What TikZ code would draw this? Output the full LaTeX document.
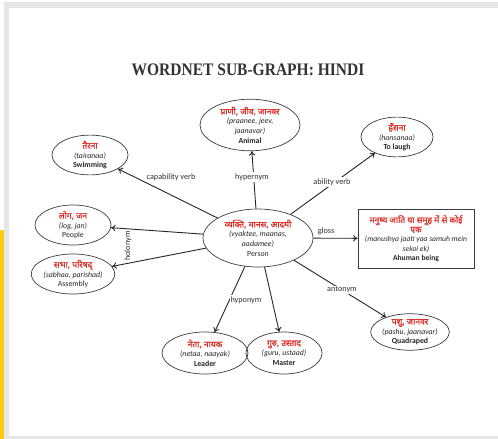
\documentclass[tikz,border=0pt]{standalone}
\usepackage{fontspec}
\setmainfont{Carlito}
\newfontfamily\devfont[Script=Devanagari,FakeBold=1.2]{Noto Sans}
\newfontfamily\ttlfont{Liberation Serif}
\usetikzlibrary{shapes.geometric,arrows.meta}
\definecolor{wred}{RGB}{222,45,38}
\definecolor{framegray}{RGB}{230,230,232}
\definecolor{baryellow}{RGB}{255,204,17}
\definecolor{edgegray}{RGB}{60,60,60}
\newcommand\dv[1]{{\devfont\fontsize{8.5}{10}\selectfont\color{wred}#1}}
\newcommand\wnlines[3]{\dv{#1}\\{\itshape #2}\\{\bfseries #3}}
\begin{document}
\begin{tikzpicture}[x=1pt,y=-1pt,
  concept/.style={ellipse,draw=edgegray,line width=0.7pt,inner sep=0pt,align=center,
    font=\fontsize{7.8}{9.6}\selectfont,text=black!85},
  glossbox/.style={rectangle,draw=edgegray,line width=0.7pt,inner sep=0pt,align=center,
    font=\fontsize{7.6}{9.4}\selectfont,text=black!85,minimum width=116pt,minimum height=59pt},
  rel/.style={draw=black!85,line width=0.9pt,-{To[length=4.5pt,width=6.5pt]}},
  rlabel/.style={font=\fontsize{8.2}{9}\selectfont,text=black!80,inner sep=1pt}]
\useasboundingbox (0,0) rectangle (498,439);
\fill[framegray] (4,2) rectangle (498,439);
\fill[white] (9,8) rectangle (498,436);
\fill[baryellow] (0,230) rectangle (4,439);

\node[font=\ttlfont\bfseries\fontsize{16}{16}\selectfont,text=black!80,xscale=0.97,yscale=1.1] (title) at (248,70) {WORDNET SUB-GRAPH: HINDI};

\node[concept,minimum width=110pt,minimum height=58pt] (person) at (258,238)
  {\dv{व्यक्ति, मानस, आदमी}\\{\itshape (vyaktee, maanas,}\\{\itshape aadamee)}\\Person};
\node[concept,minimum width=100pt,minimum height=50pt] (animal) at (250,125)
  {\dv{प्राणी, जीव, जानवर}\\{\itshape (praanee, jeev,}\\{\itshape jaanavar)}\\{\bfseries Animal}};
\node[concept,minimum width=76pt,minimum height=38pt] (swim) at (90,155)
  {\wnlines{तैरना}{(tairanaa)}{Swimming}};
\node[concept,minimum width=72pt,minimum height=38pt] (laugh) at (397,137)
  {\wnlines{हँसना}{(hansanaa)}{To laugh}};
\node[concept,minimum width=76pt,minimum height=40pt] (people) at (73,225)
  {\dv{लोग, जन}\\{\itshape (log, jan)}\\People};
\node[concept,minimum width=82pt,minimum height=40pt] (assembly) at (73,274)
  {\dv{सभा, परिषद्}\\{\itshape (sabhaa, parishad)}\\Assembly};
\node[glossbox] (human) at (416,238.5)
  {\dv{मनुष्य जाति या समूह में से कोई}\\\dv{एक}\\{\itshape (manushya jaati yaa samuh mein}\\{\itshape sekoi ek)}\\{\bfseries Ahuman being}};
\node[concept,minimum width=86pt,minimum height=42pt] (leader) at (205,353)
  {\wnlines{नेता, नायक}{(netaa, naayak)}{Leader}};
\node[concept,minimum width=76pt,minimum height=42pt] (master) at (284,353)
  {\wnlines{गुरु, उस्ताद}{(guru, ustaad)}{Master}};
\node[concept,minimum width=70pt,minimum height=36pt] (quad) at (410,332)
  {\wnlines{पशु, जानवर}{(pashu, jaanavar)}{Quadraped}};

\draw[rel] (person) -- (animal);
\draw[rel] (person) -- (swim);
\draw[rel] (person) -- (laugh);
\draw[rel] (person) -- (human);
\draw[rel] (person) -- (people);
\draw[rel] (person) -- (assembly);
\draw[rel] (person) -- (leader);
\draw[rel] (person) -- (master);
\draw[rel] (person) -- (quad);

\node[rlabel] (lcap) at (171,177) {capability verb};
\node[rlabel,fill=white] (lhyper) at (252,177) {hypernym};
\node[rlabel,fill=white] (labil) at (332,182) {ability verb};
\node[rlabel] (lgloss) at (326,231) {gloss};
\node[rlabel,rotate=90,fill=white] (lholo) at (128,246) {holonym};
\node[rlabel,fill=white] (lhypo) at (246,300) {hyponym};
\node[rlabel,fill=white] (lanto) at (342,290) {antonym};
\end{tikzpicture}
\end{document}
